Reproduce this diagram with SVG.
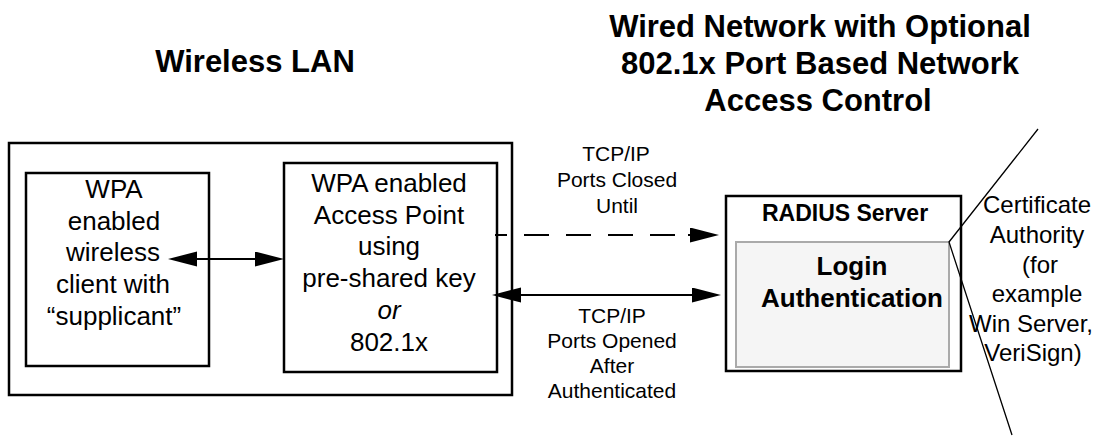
<svg xmlns="http://www.w3.org/2000/svg" width="1100" height="436" viewBox="0 0 1100 436">
<style>
text{font-family:"Liberation Sans",Arial,sans-serif;fill:#000;text-anchor:middle}
.title{font-size:31px;font-weight:bold}
.body{font-size:26px}
.lbl{font-size:21px}
.ca{font-size:24px}
.box{fill:#fff;stroke:#000;stroke-width:2.5}
.inner{fill:#f5f5f5;stroke:#aaa;stroke-width:2}
.conn{stroke:#000;stroke-width:2;fill:none}
.thin{stroke:#000;stroke-width:1.3;fill:none}
</style>
<defs>
<marker id="ah" markerUnits="userSpaceOnUse" markerWidth="30" markerHeight="16" refX="25" refY="7.5" orient="auto-start-reverse">
<path d="M0,0 L29,7.5 L0,15 Z" fill="#000"/>
</marker>
</defs>
<text class="title" x="255" y="72">Wireless LAN</text>
<text class="title" x="820" y="37">Wired Network with Optional</text>
<text class="title" x="820" y="74">802.1x Port Based Network</text>
<text class="title" x="818" y="111">Access Control</text>
<g id="wlan">
<rect class="box" x="9" y="143" width="503" height="252"/>
</g>
<g id="client">
<rect class="box" x="26" y="173" width="183" height="193"/>
<text class="body" x="114" y="198">WPA</text>
<text class="body" x="114" y="230">enabled</text>
<text class="body" x="113" y="261">wireless</text>
<text class="body" x="113" y="293">client with</text>
<text class="body" x="114" y="325">“supplicant”</text>
</g>
<g id="ap">
<rect class="box" x="284" y="163" width="213" height="209"/>
<text class="body" x="389" y="192">WPA enabled</text>
<text class="body" x="389" y="224">Access Point</text>
<text class="body" x="389" y="255">using</text>
<text class="body" x="389" y="287">pre-shared key</text>
<text class="body" x="389" y="319" font-style="italic">or</text>
<text class="body" x="389" y="351">802.1x</text>
</g>
<g id="radius">
<rect class="box" x="726" y="196" width="235" height="175"/>
<text x="845" y="221" font-size="23" font-weight="bold">RADIUS Server</text>
<rect class="inner" x="736" y="242" width="213" height="125"/>
<text x="852" y="275" font-size="26" font-weight="bold">Login</text>
<text x="852" y="307" font-size="26" font-weight="bold">Authentication</text>
</g>
<g id="ca">
<text class="ca" x="1037" y="213">Certificate</text>
<text class="ca" x="1037" y="243">Authority</text>
<text class="ca" x="1040" y="273">(for</text>
<text class="ca" x="1037" y="302">example</text>
<text class="ca" x="1031" y="332">Win Server,</text>
<text class="ca" x="1033" y="361">VeriSign)</text>
</g>
<g id="connectors">
<line class="conn" x1="172" y1="259" x2="280" y2="259" marker-start="url(#ah)" marker-end="url(#ah)"/>
<line class="conn" x1="495" y1="235" x2="690" y2="235" stroke-dasharray="25 17" stroke-dashoffset="13"/>
<line class="conn" x1="688" y1="235" x2="715" y2="235" marker-end="url(#ah)"/>
<line class="conn" x1="496" y1="295" x2="717" y2="295" marker-start="url(#ah)" marker-end="url(#ah)"/>
<polyline class="thin" points="1038,129 949,242 1012,435"/>
</g>
<g id="labels">
<text class="lbl" x="616" y="161">TCP/IP</text>
<text class="lbl" x="617" y="187">Ports Closed</text>
<text class="lbl" x="617" y="213">Until</text>
<text class="lbl" x="612" y="323">TCP/IP</text>
<text class="lbl" x="612" y="348">Ports Opened</text>
<text class="lbl" x="612" y="373">After</text>
<text class="lbl" x="612" y="398">Authenticated</text>
</g>
</svg>
